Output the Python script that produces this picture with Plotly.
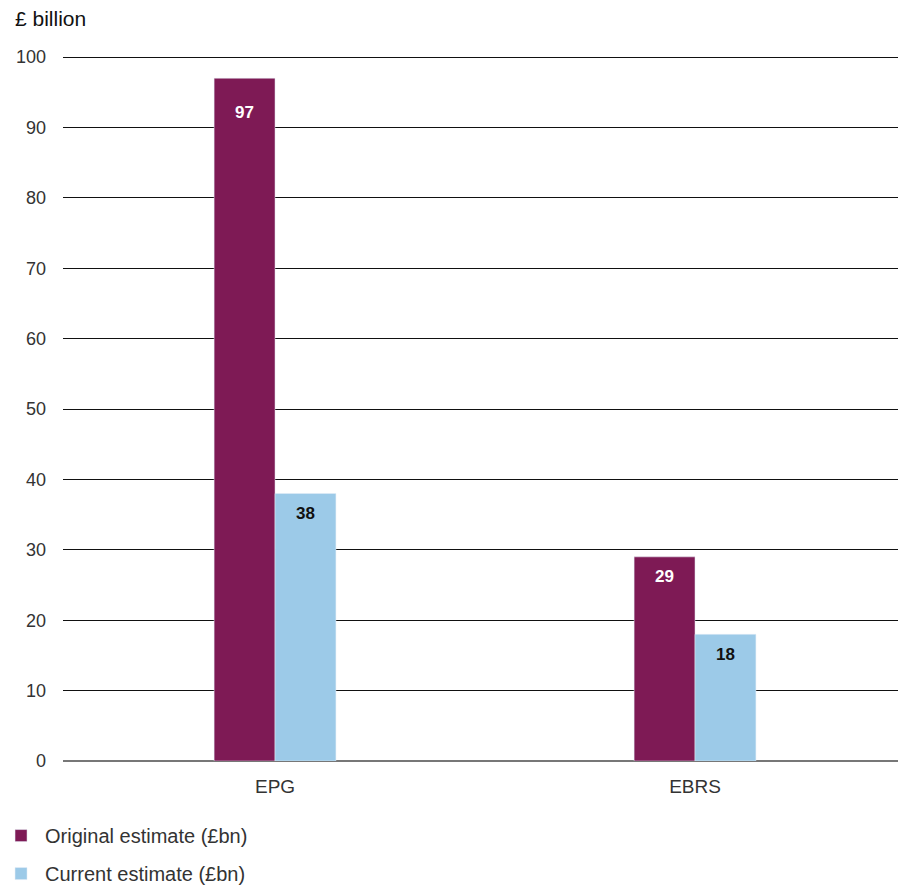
import plotly.graph_objects as go

categories = ["EPG", "EBRS"]
original = [97, 29]
current = [38, 18]
series_names = ["Original estimate (£bn)", "Current estimate (£bn)"]
y_ticks = [0, 10, 20, 30, 40, 50, 60, 70, 80, 90, 100]

purple = "#7e1a55"
blue = "#9ccae8"
font_family = "Liberation Sans, Arial, sans-serif"
bw = 0.145

fig = go.Figure()
fig.add_trace(go.Bar(x=categories, y=original, name=series_names[0], marker_color=purple,
                     width=bw, offset=-bw, legendgroup="a"))
fig.add_trace(go.Bar(x=categories, y=current, name=series_names[1], marker_color=blue,
                     width=bw, offset=0, legendgroup="b"))

annotations = []
shifts_o = [-34, -20]
for i, v in enumerate(original):
    annotations.append(dict(x=i - bw / 2, y=v, xref="x", yref="y", text=str(v), showarrow=False,
                            yshift=shifts_o[i], font=dict(color="white", size=17, family=font_family, weight="bold")))
for i, v in enumerate(current):
    annotations.append(dict(x=i + bw / 2, y=v, xref="x", yref="y", text=str(v), showarrow=False,
                            yshift=-20, font=dict(color="#111111", size=17, family=font_family, weight="bold")))
annotations.append(dict(x=0, y=1, xref="paper", yref="paper", xshift=-50, yshift=37, text="£ billion",
                        showarrow=False, xanchor="left", yanchor="middle",
                        font=dict(size=21, color="#111111", family=font_family)))

fig.update_layout(
    width=898, height=888,
    margin=dict(l=63, r=0, t=55, b=127, autoexpand=False),
    paper_bgcolor="white", plot_bgcolor="white",
    font=dict(family=font_family, color="#333333", size=16),
    barmode="group",
    showlegend=True,
    legend=dict(orientation="v", x=-0.079, y=-0.078, xanchor="left", yanchor="top",
                font=dict(size=20, color="#333333"), tracegroupgap=9, itemwidth=38),
    annotations=annotations,
)
fig.update_xaxes(type="category", range=[-0.5048, 1.4833], showgrid=False, showline=False,
                 ticks="", ticklabelstandoff=12, tickfont=dict(size=19, color="#333333"), fixedrange=True)
fig.update_yaxes(range=[0, 100.3], tickvals=y_ticks, showgrid=True, gridcolor="#111111", gridwidth=1,
                 zeroline=True, zerolinecolor="#777777", zerolinewidth=2, showline=False,
                 ticks="", ticklabelstandoff=16, tickfont=dict(size=18, color="#333333"), fixedrange=True)

fig.write_html("out.html", config={"displayModeBar": False},
               post_script="document.body.style.margin='0';document.body.style.overflow='hidden';")
